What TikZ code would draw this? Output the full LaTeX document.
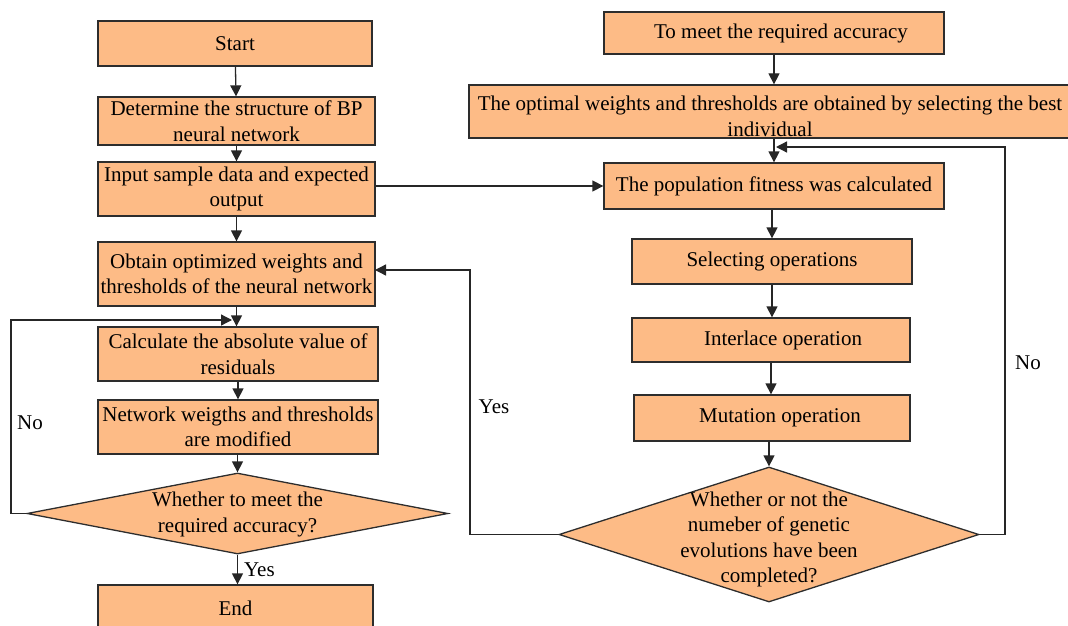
\documentclass[tikz,border=0pt]{standalone}
\usepackage{fontspec}
\setmainfont{Liberation Serif}
\usetikzlibrary{shapes.geometric,arrows.meta}
\definecolor{boxfill}{RGB}{253,187,134}
\definecolor{boxline}{RGB}{45,45,45}
\begin{document}
\begin{tikzpicture}[x=1pt,y=-1pt,
  box/.style={draw=boxline, line width=1.3pt, fill=boxfill, inner sep=0pt, align=center, font=\fontsize{21}{25.5}\selectfont},
  dia/.style={diamond, draw=boxline, line width=1.3pt, fill=boxfill, inner sep=0pt, font=\fontsize{21}{25.5}\selectfont},
  arr/.style={-{Triangle[length=11pt,width=11pt]}, line width=1.3pt, draw=black!85},
  lbl/.style={font=\fontsize{21}{25.5}\selectfont, inner sep=0pt}
]
\useasboundingbox (0,0) rectangle (1068,626);
% left column
\node[box, minimum width=274pt, minimum height=45pt] (start) at (235,43.5) {Start};
\node[box, minimum width=277pt, minimum height=48pt] (determ) at (236.5,121) {Determine the structure of BP\\neural network};
\node[box, minimum width=277pt, minimum height=54pt] (input) at (236.5,189) {Input sample data and expected\\output};
\node[box, minimum width=277pt, minimum height=64pt] (obtain) at (236.5,274) {Obtain optimized weights and\\thresholds of the neural network};
\node[box, minimum width=280pt, minimum height=54pt] (calc) at (238,354) {Calculate the absolute value of\\residuals};
\node[box, minimum width=280pt, minimum height=54pt] (netw) at (238,427) {Network weigths and thresholds\\are modified};
\node[dia, minimum width=421pt, minimum height=81pt] (dia1) at (237.5,513.5) {\smash{\makebox[0pt]{\raisebox{-6pt}{\begin{tabular}{@{}c@{}}Whether to meet the\\required accuracy?\end{tabular}}}}};
\node[box, minimum width=275pt, minimum height=47pt] (endbox) at (235.5,608.5) {End};
% right column
\node[box, minimum width=340pt, minimum height=42pt] (meet) at (774,33) {\hspace*{14pt}To meet the required accuracy};
\node[box, minimum width=602pt, minimum height=53pt] (optimal) at (770,111.5) {\rule{0pt}{24pt}The optimal weights and thresholds are obtained by selecting the best\\individual};
\node[box, minimum width=340pt, minimum height=46pt] (pop) at (774,186) {The population fitness was calculated};
\node[box, minimum width=280pt, minimum height=45pt] (sel) at (772,261.5) {Selecting operations};
\node[box, minimum width=278pt, minimum height=44pt] (inter) at (771,340) {\hspace*{24pt}Interlace operation};
\node[box, minimum width=276pt, minimum height=46pt] (mut) at (772,418) {\hspace*{16pt}Mutation operation};
\node[dia, minimum width=420pt, minimum height=135pt] (dia2) at (769,534.5) {\smash{\makebox[0pt]{\raisebox{-10pt}{\begin{tabular}{@{}c@{}}Whether or not the\\numeber of genetic\\evolutions have been\\completed?\end{tabular}}}}};
% helper coordinates
\coordinate (nlin) at (232,320);
\coordinate (nrin) at (776,147);
\coordinate (yin) at (375,270);
% connectors left
\draw[arr] (start) -- (determ);
\draw[arr] (determ.south) -- (input.north);
\draw[arr] (input.south) -- (obtain.north);
\draw[arr] (obtain.south) -- (calc.north -| obtain.south);
\draw[arr] (calc.south) -- (netw.north);
\draw[arr] (netw.south -| dia1.north) -- (dia1.north);
\draw[arr] (dia1.south) -- (endbox.north -| dia1.south) node[lbl, midway, right=6pt] {Yes};
\draw[arr] (dia1.west) -- (11,513.5) |- (nlin);
\node[lbl] (nol) at (30,423) {No};
% connectors right
\draw[arr] (input.east |- pop.west) -- (pop.west);
\draw[arr] (meet.south) -- (meet.south |- optimal.north);
\draw[arr] (pop.north |- optimal.south) -- (pop.north);
\draw[arr] (pop.south -| sel.north) -- (sel.north);
\draw[arr] (sel.south) -- (inter.north -| sel.south);
\draw[arr] (inter.south) -- (mut.north -| inter.south);
\draw[arr] (mut.south -| dia2.north) -- (dia2.north);
\draw[arr] (dia2.east) -- (1005,534.5) |- (nrin);
\node[lbl] (nor) at (1028,363) {No};
\draw[arr] (dia2.west) -- (470,534.5) |- (yin);
\node[lbl] (yesr) at (494,407) {Yes};
\end{tikzpicture}
\end{document}
